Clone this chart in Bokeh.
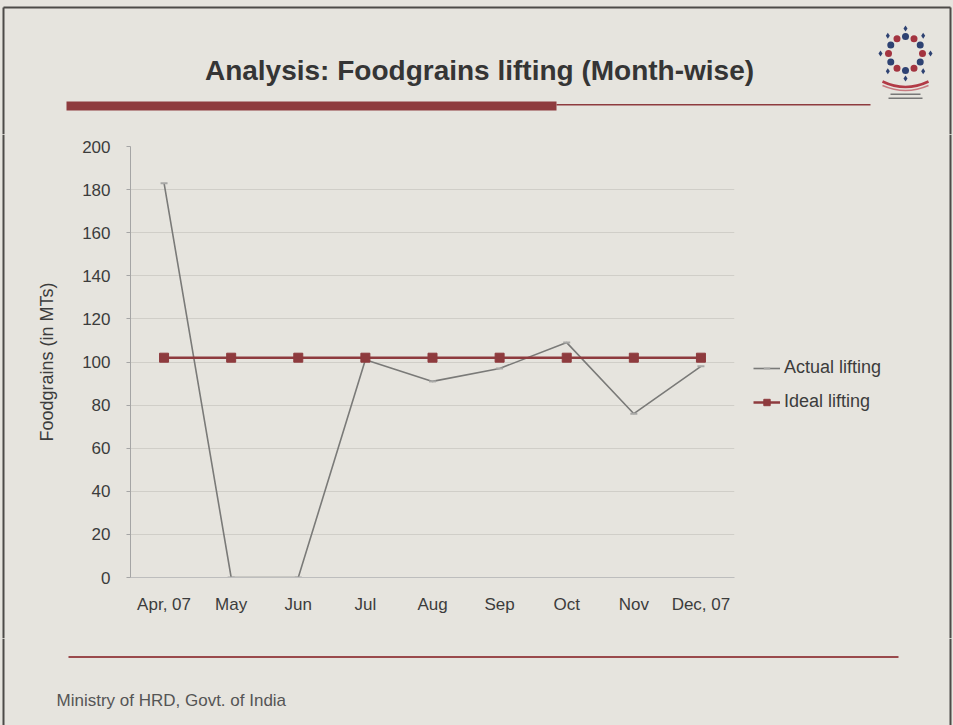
import math
from bokeh.plotting import figure
from bokeh.layouts import column, row
from bokeh.models import (Legend, LegendItem, FixedTicker, ColumnDataSource, Range1d,
                          FactorRange)
from bokeh.core.properties import value
from bokeh.embed import file_html
from bokeh.resources import INLINE

months = ["Apr, 07", "May", "Jun", "Jul", "Aug", "Sep", "Oct", "Nov", "Dec, 07"]
actual = [183, 0, 0, 101, 91, 97, 109, 76, 98]
ideal = [102, 102, 102, 102, 102, 102, 102, 102, 102]
y_ticks = [0, 20, 40, 60, 80, 100, 120, 140, 160, 180, 200]

title_text = "Analysis: Foodgrains lifting (Month-wise)"
y_label = "Foodgrains (in MTs)"
footer_text = "Ministry of HRD, Govt. of India"
series_names = ["Actual lifting", "Ideal lifting"]

BG = "#e6e4de"
RED = "#8e3b3e"
GREY = "#7a7a78"
TXT = "#3c3c3c"
EDGE = "#4d4b48"
FONT = "Liberation Sans"

W = 953
TOP_H, MID_H, BOT_H = 134, 504, 87
STRIP_W = 8
CHART_W = 748


def deco_fig(w, h, x0, y0):
    f = figure(width=w, height=h, x_range=Range1d(x0, x0 + w),
               y_range=Range1d(y0 + h, y0), output_backend="svg",
               toolbar_location=None, min_border=0, x_axis_location=None,
               y_axis_location=None, frame_align=False)
    f.grid.visible = False
    f.outline_line_color = None
    f.background_fill_color = BG
    f.border_fill_color = BG
    return f


def edges(f, y0, y1, left=True, right=True):
    if left:
        f.segment(x0=[3], y0=[y0], x1=[3], y1=[y1], line_color=EDGE, line_width=2)
    if right:
        f.segment(x0=[950], y0=[y0], x1=[950], y1=[y1], line_color=EDGE, line_width=2)


# ---------- header ----------
top = deco_fig(W, TOP_H, 0, 0)
top.segment(x0=[3], y0=[7], x1=[950], y1=[7], line_color=EDGE, line_width=2)
edges(top, 7, TOP_H)
top.text(x=[479], y=[70], text=[title_text], text_font=value(FONT), text_font_size="28px",
         text_font_style="bold", text_color="#353535", text_align="center",
         text_baseline="middle")
top.quad(left=[66], right=[556], top=[101], bottom=[110], fill_color=RED, line_color=None)
top.quad(left=[556], right=[870], top=[103.5], bottom=[105], fill_color=RED, line_color=None)

# logo
cx, cy = 905, 53
ring_x = [cx + 17 * math.cos(2 * math.pi * k / 12) for k in range(12)]
ring_y = [cy + 17 * math.sin(2 * math.pi * k / 12) for k in range(12)]
ring_c = ["#a33440" if k % 2 == 0 else "#2e4272" for k in range(12)]
top.scatter(ring_x, ring_y, size=7, fill_color=ring_c, line_color=None)
sp_x = [cx + 25 * math.cos(2 * math.pi * k / 8 - math.pi / 2) for k in range(8)]
sp_y = [cy + 25 * math.sin(2 * math.pi * k / 8 - math.pi / 2) for k in range(8)]
top.scatter(sp_x, sp_y, size=6, marker="diamond", fill_color="#2e4272", line_color=None)
top.quadratic(x0=[882], y0=[81], x1=[928], y1=[81], cx=[905], cy=[92],
              line_color="#b23a46", line_width=2.5)
top.quadratic(x0=[882], y0=[85], x1=[928], y1=[85], cx=[905], cy=[95],
              line_color="#c77a80", line_width=1.5)
top.quad(left=[890, 888], right=[920, 922], top=[93, 97], bottom=[94.5, 98.5],
         fill_color="#777777", line_color=None)

# ---------- left edge strip ----------
strip = deco_fig(STRIP_W, MID_H, 0, TOP_H)
edges(strip, TOP_H, TOP_H + MID_H, right=False)

# ---------- chart ----------
p = figure(width=CHART_W - STRIP_W, height=MID_H, x_range=FactorRange(*months),
           y_range=Range1d(0, 200), output_backend="svg", toolbar_location=None,
           min_border_left=130 - STRIP_W, min_border_right=CHART_W - 734,
           min_border_top=12, min_border_bottom=61, frame_align=False)
p.x_range.range_padding = 0
p.background_fill_color = BG
p.border_fill_color = BG
p.outline_line_color = None

p.yaxis.ticker = FixedTicker(ticks=y_ticks)
p.yaxis.axis_line_color = "#a5a5a5"
p.yaxis.major_tick_line_color = "#a5a5a5"
p.yaxis.major_tick_out = 4
p.yaxis.major_tick_in = 0
p.yaxis.minor_tick_line_color = None
p.yaxis.major_label_standoff = 16
p.yaxis.major_label_text_font = FONT
p.yaxis.major_label_text_font_size = "17px"
p.yaxis.major_label_text_color = TXT
p.yaxis.axis_label = y_label
p.yaxis.axis_label_text_font = FONT
p.yaxis.axis_label_text_font_size = "18px"
p.yaxis.axis_label_text_font_style = "normal"
p.yaxis.axis_label_text_color = TXT
p.yaxis.axis_label_standoff = 22

p.xaxis.axis_line_color = "#bdbdbd"
p.xaxis.major_tick_line_color = None
p.xaxis.minor_tick_line_color = None
p.xaxis.major_label_standoff = 11
p.xaxis.major_label_text_font = FONT
p.xaxis.major_label_text_font_size = "17px"
p.xaxis.major_label_text_color = TXT

p.xgrid.grid_line_color = None
p.ygrid.grid_line_color = "#d0cec8"
p.ygrid.grid_line_width = 1

src = ColumnDataSource(dict(m=months, a=actual, i=ideal))
act_line = dict(line_color=GREY, line_width=1.6)
act_mark = dict(marker="dash", size=7, line_color="#a8a8a6", line_width=2)
ide_line = dict(line_color=RED, line_width=2.5)
ide_mark = dict(marker="square", size=9, fill_color=RED, line_color=RED)
p.line("m", "a", source=src, **act_line)
p.scatter("m", "a", source=src, **act_mark)
p.line("m", "i", source=src, **ide_line)
p.scatter("m", "i", source=src, **ide_mark)

# ---------- legend panel (sample renderers lie outside its visible range) ----------
leg = deco_fig(W - CHART_W, MID_H, CHART_W, TOP_H)
edges(leg, TOP_H, TOP_H + MID_H, left=False)
hidden = ColumnDataSource(dict(x=[0, 0], y=[0, 0]))
la = leg.line("x", "y", source=hidden, **act_line)
lam = leg.scatter("x", "y", source=hidden, **act_mark)
li = leg.line("x", "y", source=hidden, **ide_line)
lim = leg.scatter("x", "y", source=hidden, **ide_mark)
legend = Legend(items=[LegendItem(label=series_names[0], renderers=[la, lam]),
                       LegendItem(label=series_names[1], renderers=[li, lim])],
                location=(5, 226), background_fill_alpha=0, border_line_color=None,
                label_text_font=FONT, label_text_font_size="18px",
                label_text_color=TXT, glyph_width=27, glyph_height=16,
                label_standoff=4, spacing=13, padding=0, margin=0, label_height=18)
leg.add_layout(legend, "center")

# ---------- footer ----------
bot = deco_fig(W, BOT_H, 0, TOP_H + MID_H)
edges(bot, TOP_H + MID_H, TOP_H + MID_H + BOT_H)
bot.quad(left=[68], right=[898], top=[655.5], bottom=[657.5], fill_color="#9a4a4c",
         line_color=None)
bot.text(x=[56], y=[700], text=[footer_text], text_font=value(FONT),
         text_font_size="17px", text_color="#555555", text_align="left",
         text_baseline="middle")

layout = column(top, row(strip, p, leg, spacing=0, styles={"background-color": BG}), bot,
                spacing=0, styles={"background-color": BG})
open("out.html", "w").write(file_html(layout, INLINE))
